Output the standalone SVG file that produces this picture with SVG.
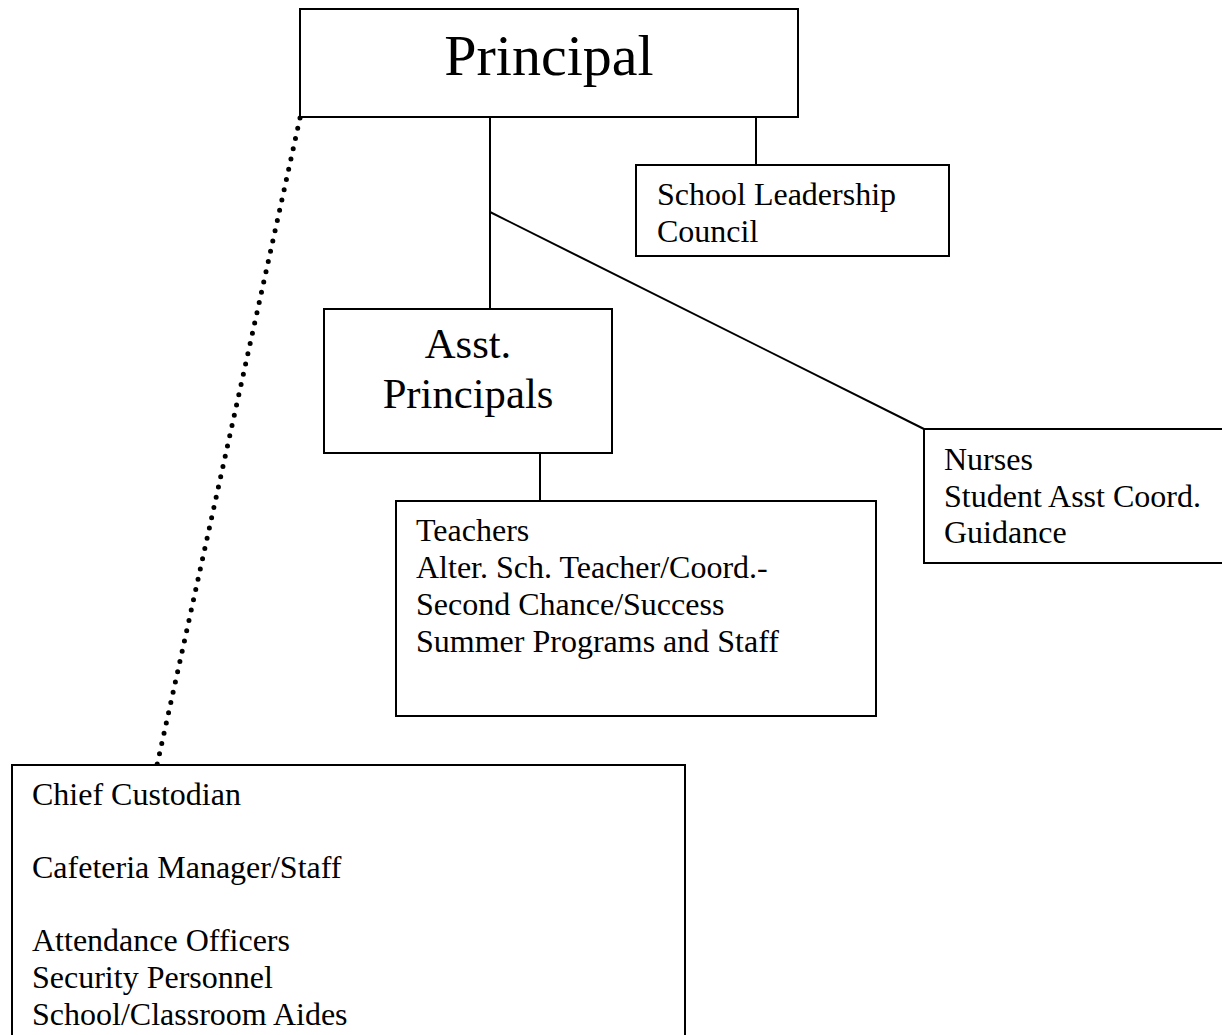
<svg xmlns="http://www.w3.org/2000/svg" width="1222" height="1035" viewBox="0 0 1222 1035">
<style>
.box{fill:#fff;stroke:#000;stroke-width:2}
.ln{stroke:#000;stroke-width:2;fill:none}
text{font-family:"Liberation Serif","Times New Roman",serif;fill:#000}
.t{font-size:32px}
</style>
<rect width="1222" height="1035" fill="#fff"/>
<g id="connectors">
<line class="ln" x1="490" y1="117" x2="490" y2="309"/>
<line class="ln" x1="756" y1="117" x2="756" y2="165"/>
<line class="ln" x1="490" y1="212" x2="924" y2="429" stroke-width="1.6"/>
<line class="ln" x1="540" y1="453" x2="540" y2="501"/>
<line x1="300" y1="118" x2="157" y2="765" stroke="#000" stroke-width="5" stroke-linecap="round" stroke-dasharray="0 10.5"/>
</g>
<g id="principal">
<rect class="box" x="300" y="9" width="498" height="108"/>
<text x="549" y="75" font-size="58" text-anchor="middle">Principal</text>
</g>
<g id="slc">
<rect class="box" x="636" y="165" width="313" height="91"/>
<text class="t" x="657" y="205">School Leadership</text>
<text class="t" x="657" y="242">Council</text>
</g>
<g id="asst">
<rect class="box" x="324" y="309" width="288" height="144"/>
<text x="468" y="358" font-size="42.7" text-anchor="middle">Asst.</text>
<text x="468" y="408" font-size="42.7" text-anchor="middle">Principals</text>
</g>
<g id="teachers">
<rect class="box" x="396" y="501" width="480" height="215"/>
<text class="t" x="416" y="541">Teachers</text>
<text class="t" x="416" y="578">Alter. Sch. Teacher/Coord.-</text>
<text class="t" x="416" y="615">Second Chance/Success</text>
<text class="t" x="416" y="652">Summer Programs and Staff</text>
</g>
<g id="nurses">
<rect class="box" x="924" y="429" width="310" height="134"/>
<text class="t" x="944" y="470">Nurses</text>
<text class="t" x="944" y="507">Student Asst Coord.</text>
<text class="t" x="944" y="543">Guidance</text>
</g>
<g id="support">
<rect class="box" x="12" y="765" width="673" height="290"/>
<text class="t" x="32" y="805">Chief Custodian</text>
<text class="t" x="32" y="878">Cafeteria Manager/Staff</text>
<text class="t" x="32" y="951">Attendance Officers</text>
<text class="t" x="32" y="988">Security Personnel</text>
<text class="t" x="32" y="1025">School/Classroom Aides</text>
</g>
</svg>
